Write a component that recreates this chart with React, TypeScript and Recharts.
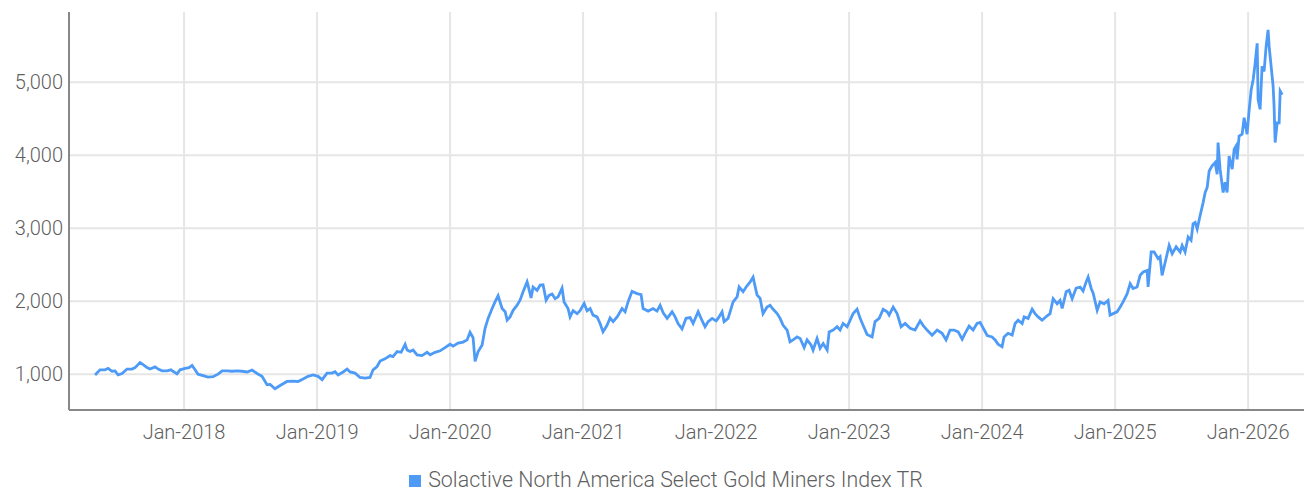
import { LineChart, Line, XAxis, YAxis, CartesianGrid, Legend } from 'recharts';

// dates as decimal years
const dates = [
  2017.331, 2017.368, 2017.406, 2017.429, 2017.459, 2017.481, 2017.504, 2017.534, 2017.571, 2017.609,
  2017.632, 2017.669, 2017.692, 2017.722, 2017.744, 2017.782, 2017.805, 2017.835, 2017.872, 2017.902,
  2017.917, 2017.947, 2017.970, 2018.008, 2018.038, 2018.060, 2018.083, 2018.105, 2018.143, 2018.180,
  2018.218, 2018.256, 2018.286, 2018.323, 2018.361, 2018.398, 2018.436, 2018.474, 2018.511, 2018.549,
  2018.586, 2018.624, 2018.647, 2018.684, 2018.722, 2018.774, 2018.820, 2018.857, 2018.895, 2018.932,
  2018.970, 2019.008, 2019.038, 2019.075, 2019.113, 2019.135, 2019.158, 2019.196, 2019.226, 2019.248,
  2019.286, 2019.323, 2019.361, 2019.398, 2019.421, 2019.451, 2019.474, 2019.511, 2019.549, 2019.571,
  2019.602, 2019.632, 2019.662, 2019.677, 2019.699, 2019.722, 2019.752, 2019.789, 2019.827, 2019.850,
  2019.887, 2019.925, 2019.962, 2020.000, 2020.023, 2020.060, 2020.098, 2020.128, 2020.150, 2020.173,
  2020.188, 2020.211, 2020.241, 2020.263, 2020.286, 2020.316, 2020.338, 2020.361, 2020.391, 2020.414,
  2020.429, 2020.451, 2020.474, 2020.504, 2020.526, 2020.549, 2020.579, 2020.586, 2020.609, 2020.624,
  2020.654, 2020.677, 2020.699, 2020.722, 2020.744, 2020.767, 2020.790, 2020.812, 2020.842, 2020.857,
  2020.887, 2020.902, 2020.925, 2020.955, 2020.977, 2021.008, 2021.030, 2021.053, 2021.075, 2021.105,
  2021.128, 2021.150, 2021.180, 2021.203, 2021.226, 2021.256, 2021.293, 2021.316, 2021.338, 2021.368,
  2021.406, 2021.436, 2021.451, 2021.489, 2021.526, 2021.556, 2021.579, 2021.602, 2021.632, 2021.669,
  2021.692, 2021.714, 2021.744, 2021.774, 2021.805, 2021.827, 2021.865, 2021.887, 2021.917, 2021.940,
  2021.970, 2022.000, 2022.015, 2022.045, 2022.060, 2022.090, 2022.128, 2022.158, 2022.173, 2022.203,
  2022.226, 2022.256, 2022.278, 2022.308, 2022.331, 2022.353, 2022.383, 2022.406, 2022.429, 2022.459,
  2022.481, 2022.504, 2022.534, 2022.556, 2022.579, 2022.609, 2022.632, 2022.662, 2022.684, 2022.714,
  2022.729, 2022.759, 2022.782, 2022.805, 2022.835, 2022.850, 2022.880, 2022.910, 2022.932, 2022.955,
  2022.985, 2023.008, 2023.030, 2023.060, 2023.083, 2023.105, 2023.135, 2023.173, 2023.195, 2023.226,
  2023.256, 2023.286, 2023.301, 2023.331, 2023.361, 2023.391, 2023.421, 2023.459, 2023.496, 2023.534,
  2023.556, 2023.586, 2023.624, 2023.662, 2023.699, 2023.729, 2023.759, 2023.789, 2023.820, 2023.850,
  2023.872, 2023.902, 2023.932, 2023.962, 2023.985, 2024.008, 2024.038, 2024.075, 2024.098, 2024.120,
  2024.150, 2024.165, 2024.195, 2024.226, 2024.248, 2024.271, 2024.301, 2024.316, 2024.346, 2024.376,
  2024.398, 2024.421, 2024.451, 2024.489, 2024.511, 2024.534, 2024.564, 2024.586, 2024.602, 2024.632,
  2024.654, 2024.677, 2024.707, 2024.737, 2024.759, 2024.782, 2024.797, 2024.820, 2024.835, 2024.865,
  2024.887, 2024.917, 2024.947, 2024.962, 2024.985, 2025.015, 2025.038, 2025.060, 2025.090, 2025.113,
  2025.135, 2025.165, 2025.188, 2025.211, 2025.241, 2025.248, 2025.271, 2025.293, 2025.323, 2025.338,
  2025.353, 2025.383, 2025.406, 2025.429, 2025.459, 2025.489, 2025.504, 2025.526, 2025.549, 2025.571,
  2025.586, 2025.602, 2025.617, 2025.639, 2025.662, 2025.677, 2025.692, 2025.707, 2025.729, 2025.752,
  2025.767, 2025.774, 2025.789, 2025.812, 2025.827, 2025.842, 2025.857, 2025.880, 2025.895, 2025.910,
  2025.917, 2025.932, 2025.955, 2025.970, 2025.992, 2026.008, 2026.023, 2026.038, 2026.053, 2026.068,
  2026.075, 2026.090, 2026.105, 2026.120, 2026.135, 2026.150, 2026.158, 2026.173, 2026.188, 2026.195,
  2026.203, 2026.218, 2026.233, 2026.241, 2026.256,
];

const values = [
  990, 1060, 1060, 1080, 1040, 1045, 990, 1010, 1070, 1070,
  1090, 1160, 1130, 1090, 1070, 1100, 1070, 1045, 1045, 1060,
  1040, 1005, 1060, 1080, 1090, 1120, 1060, 1000, 980, 960,
  965, 1000, 1045, 1045, 1040, 1045, 1040, 1030, 1055, 1010,
  970, 855, 860, 800, 845, 900, 905, 900, 935, 970,
  990, 970, 925, 1015, 1015, 1035, 990, 1030, 1070, 1030,
  1015, 955, 945, 955, 1060, 1105, 1180, 1210, 1255, 1240,
  1310, 1300, 1410, 1330, 1310, 1330, 1265, 1255, 1300, 1265,
  1300, 1320, 1365, 1410, 1385, 1425, 1440, 1470, 1575, 1500,
  1175, 1310, 1400, 1630, 1765, 1900, 1990, 2075, 1900, 1855,
  1740, 1785, 1875, 1945, 2015, 2130, 2265, 2220, 2045, 2195,
  2150, 2220, 2225, 2015, 2080, 2100, 2035, 2060, 2180, 1990,
  1900, 1785, 1870, 1830, 1870, 1970, 1870, 1900, 1810, 1785,
  1695, 1580, 1670, 1770, 1720, 1785, 1900, 1855, 1990, 2135,
  2105, 2090, 1900, 1865, 1900, 1865, 1945, 1840, 1765, 1855,
  1785, 1695, 1620, 1765, 1775, 1695, 1855, 1765, 1650, 1720,
  1765, 1730, 1765, 1855, 1720, 1765, 1990, 2060, 2195, 2130,
  2195, 2265, 2330, 2085, 2040, 1830, 1920, 1945, 1890, 1830,
  1765, 1670, 1605, 1445, 1470, 1510, 1490, 1365, 1470, 1400,
  1330, 1490, 1355, 1420, 1330, 1580, 1605, 1650, 1605, 1695,
  1650, 1740, 1830, 1890, 1765, 1670, 1545, 1510, 1720, 1765,
  1890, 1855, 1810, 1920, 1830, 1650, 1695, 1630, 1605, 1730,
  1670, 1605, 1535, 1605, 1560, 1470, 1605, 1605, 1580, 1480,
  1560, 1660, 1605, 1695, 1710, 1630, 1530, 1510, 1470, 1410,
  1375, 1510, 1560, 1535, 1695, 1740, 1695, 1785, 1765, 1890,
  1830, 1785, 1740, 1800, 1830, 2035, 1965, 2010, 1900, 2130,
  2150, 2035, 2180, 2195, 2140, 2265, 2330, 2175, 2110, 1875,
  1990, 1965, 2010, 1810, 1830, 1855, 1920, 1990, 2100, 2240,
  2175, 2195, 2355, 2400, 2420, 2195, 2675, 2675, 2585, 2610,
  2355, 2585, 2765, 2650, 2745, 2675, 2765, 2675, 2880, 2835,
  3060, 3080, 2990, 3175, 3355, 3490, 3560, 3785, 3855, 3900,
  3740, 4175, 3810, 3490, 3630, 3490, 3990, 3810, 4085, 4130,
  3945, 4265, 4290, 4515, 4290, 4630, 4900, 5040, 5265, 5535,
  4765, 4630, 5220, 5150, 5490, 5720, 5490, 5220, 4945, 4675,
  4175, 4445, 4445, 4880, 4830,
];

const yearTicks = [2018, 2019, 2020, 2021, 2022, 2023, 2024, 2025, 2026];
const valueTicks = [1000, 2000, 3000, 4000, 5000];
const seriesName = 'Solactive North America Select Gold Miners Index TR';

const data = dates.slice(0, Math.min(dates.length, values.length)).map((t, i) => ({ t, v: values[i] }));

const tickStyle = { fontSize: 20, fill: '#5f5f5f', fontFamily: 'Roboto', fontWeight: 300 };

export default function App() {
  return (
    <div style={{ position: 'absolute', left: 0, top: 0 }}>
      <LineChart
        width={1304}
        height={496}
        data={data}
        margin={{ top: 12, right: 0, bottom: 4, left: 0 }}
        style={{ fontFamily: 'Roboto' }}
      >
        <CartesianGrid
          stroke="#e6e6e6"
          strokeWidth={2}
          horizontalValues={valueTicks}
          verticalValues={yearTicks}
        />
        <XAxis
          dataKey="t"
          type="number"
          domain={[2017.135, 2026.42]}
          ticks={yearTicks}
          tickFormatter={v => `Jan-${v}`}
          allowDataOverflow
          height={57}
          tickLine={false}
          tickSize={6}
          tickMargin={9}
          stroke="#888"
          strokeWidth={2}
          tick={tickStyle}
        />
        <YAxis
          domain={[509, 5964]}
          ticks={valueTicks}
          tickFormatter={v => v.toLocaleString('en-US')}
          allowDataOverflow
          width={69}
          tickLine={false}
          tickSize={4}
          tickMargin={2}
          stroke="#888"
          strokeWidth={2}
          tick={tickStyle}
        />
        <Legend
          verticalAlign="bottom"
          iconType="square"
          iconSize={12}
          wrapperStyle={{ paddingLeft: 19, fontSize: 21.4, fontFamily: 'Roboto', fontWeight: 300 }}
          formatter={value => <span style={{ color: '#5f5f5f', marginLeft: 3 }}>{value}</span>}
        />
        <Line
          name={seriesName}
          type="linear"
          dataKey="v"
          stroke="#4d9bf7"
          strokeWidth={2.8}
          dot={false}
          isAnimationActive={false}
        />
      </LineChart>
    </div>
  );
}
